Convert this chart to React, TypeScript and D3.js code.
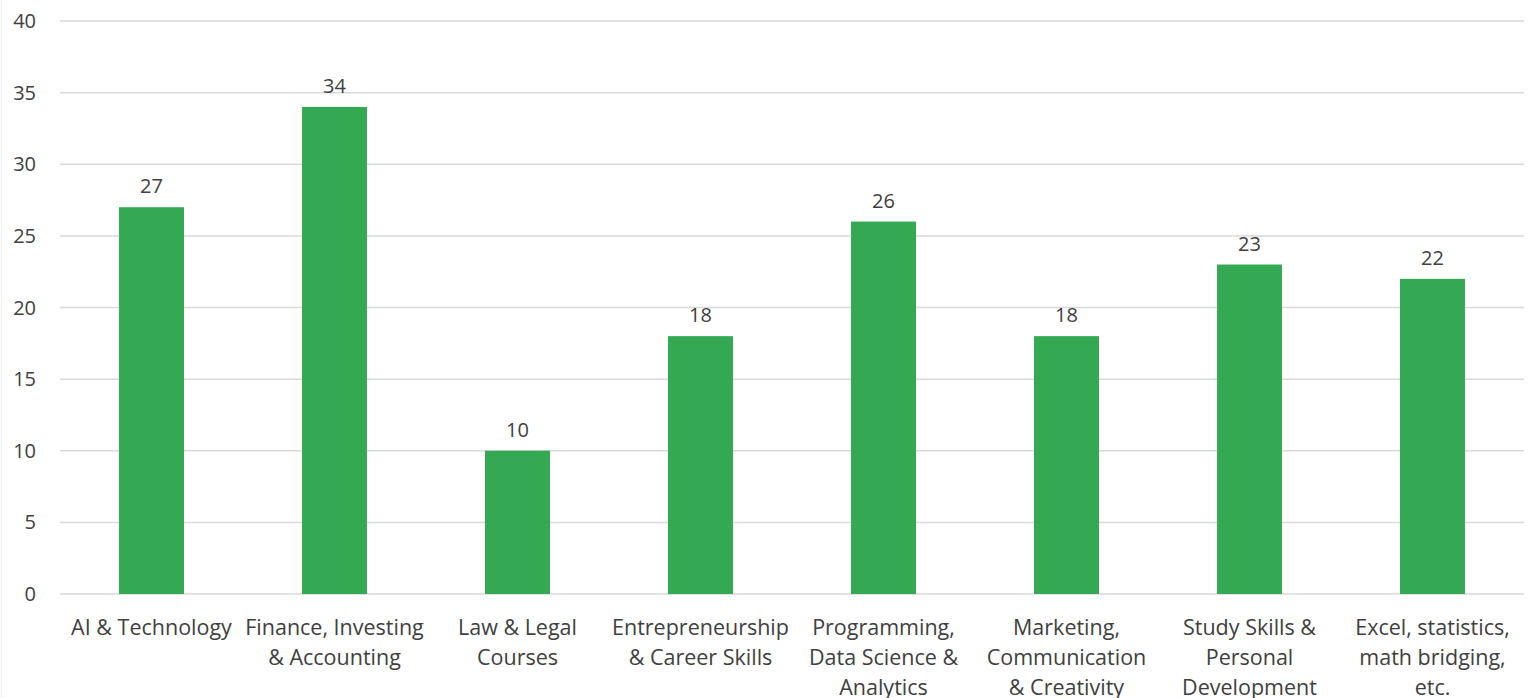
import React from "react";
import * as d3 from "d3";

const categories = [
  ["AI & Technology"],
  ["Finance, Investing", "& Accounting"],
  ["Law & Legal", "Courses"],
  ["Entrepreneurship", "& Career Skills"],
  ["Programming,", "Data Science &", "Analytics"],
  ["Marketing,", "Communication", "& Creativity"],
  ["Study Skills &", "Personal", "Development"],
  ["Excel, statistics,", "math bridging,", "etc."],
];
const values = [27, 34, 10, 18, 26, 18, 23, 22];
const yTicks = [0, 5, 10, 15, 20, 25, 30, 35, 40];

const W = 1531;
const H = 698;
const margin = { top: 21, right: 7, bottom: 104, left: 60 };

export default function App() {
  const keys = categories.map((c) => c.join(" "));
  const x = d3
    .scaleBand<string>()
    .domain(keys)
    .range([margin.left, W - margin.right])
    .paddingInner(0.645)
    .paddingOuter(0.3225);
  const y = d3.scaleLinear().domain([0, 40]).range([H - margin.bottom, margin.top]);
  const font = "'Open Sans', sans-serif";

  return (
    <svg
      width={W}
      height={H}
      style={{ position: "absolute", left: 0, top: 0, background: "#fff" }}
      fontFamily={font}
    >
      <line x1={1.5} x2={1.5} y1={0} y2={H} stroke="#eeeeee" />
      {yTicks.map((t) => (
        <g key={t}>
          <line
            x1={margin.left}
            x2={W - margin.right}
            y1={y(t)}
            y2={y(t)}
            stroke="#d9d9d9"
            strokeWidth={1.5}
          />
          <text
            x={36}
            y={y(t)}
            dy="0.35em"
            textAnchor="end"
            fontSize={20}
            fill="#404040"
          >
            {t}
          </text>
        </g>
      ))}
      {values.map((v, i) => {
        const k = keys[i];
        const cx = (x(k) as number) + x.bandwidth() / 2;
        return (
          <g key={k}>
            <rect
              x={x(k)}
              y={y(v)}
              width={x.bandwidth()}
              height={y(0) - y(v)}
              fill="#34a853"
            />
            <text x={cx} y={y(v) - 14} textAnchor="middle" fontSize={20} fill="#404040">
              {v}
            </text>
            <text textAnchor="middle" fontSize={21.5} fill="#404040">
              {categories[i].map((line, j) => (
                <tspan key={j} x={cx} y={y(0) + 41 + j * 30}>
                  {line}
                </tspan>
              ))}
            </text>
          </g>
        );
      })}
    </svg>
  );
}
